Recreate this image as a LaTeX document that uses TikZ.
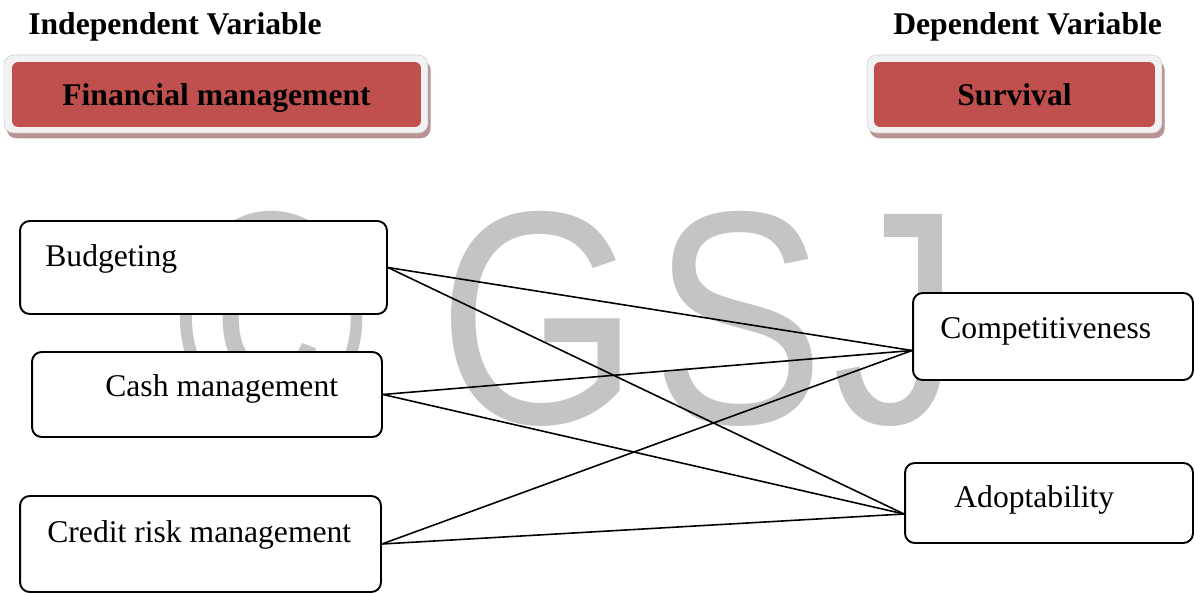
\documentclass[tikz,border=0pt]{standalone}
\usepackage{fontspec}
\setmainfont{Liberation Serif}
\newfontfamily\wmfont{Liberation Sans}
\usepackage{tikz}
\usetikzlibrary{calc, shadows}

\definecolor{headred}{RGB}{192,80,77}
\definecolor{headframe}{RGB}{242,242,242}
\definecolor{headshadow}{RGB}{184,148,148}
\definecolor{wmgray}{RGB}{196,196,196}

\tikzset{
  bodyfont/.style={font=\fontsize{18}{21}\selectfont},
  headfont/.style={font=\fontsize{18}{21}\selectfont\bfseries},
  frame/.style={fill=headframe, draw=headframe!85!black, line width=0.3pt,
    rounded corners=5.5pt, inner sep=0pt,
    drop shadow={shadow xshift=1.5pt, shadow yshift=-3pt, fill=headshadow, opacity=1}},
  redbox/.style={fill=headred, rounded corners=3.5pt, inner sep=0pt,
    text height=12.5pt, text depth=0pt, headfont},
  varbox/.style={draw, fill=white, line width=1.1pt, rounded corners=5.5pt, inner sep=0pt},
  vartext/.style={anchor=base west, inner sep=0pt, bodyfont},
  link/.style={line width=0.9pt}
}

\begin{document}
\begin{tikzpicture}[x=0.02cm, y=-0.02cm]
\useasboundingbox (0,0) rectangle (1194,594);

% watermark
\node[anchor=base west, inner sep=0pt, text=wmgray, xscale=0.85,
  font=\wmfont\fontsize{173}{173}\selectfont] (wm) at (176,424)
  {\textcopyright{} G\kern9ptS\kern5ptJ};

% headings
\node[anchor=base west, inner sep=0pt, headfont] (indep) at (28,35) {Independent Variable};
\node[anchor=base west, inner sep=0pt, headfont] (dep) at (893,35) {Dependent Variable};

\node[frame, minimum width=8.48cm, minimum height=1.56cm] (fmframe) at (216,94) {};
\node[redbox, minimum width=8.18cm, minimum height=1.3cm] (fm) at (216.5,94.5) {Financial management};

\node[frame, minimum width=5.9cm, minimum height=1.56cm] (svframe) at (1014.5,94) {};
\node[redbox, minimum width=5.62cm, minimum height=1.3cm] (sv) at (1014.5,94.5) {Survival};

% independent variables
\node[varbox, minimum width=7.34cm, minimum height=1.86cm] (bud) at (203.5,267.5) {};
\node[vartext] (budtxt) at (45,267) {Budgeting};

\node[varbox, minimum width=7.0cm, minimum height=1.7cm] (cash) at (207,394.5) {};
\node[vartext] (cashtxt) at (105,397) {Cash management};

\node[varbox, minimum width=7.22cm, minimum height=1.92cm] (cred) at (200.5,544) {};
\node[vartext] (credtxt) at (47,542) {Credit risk management};

% dependent variables
\node[varbox, minimum width=5.6cm, minimum height=1.74cm] (comp) at (1053,336.5) {};
\node[vartext] (comptxt) at (940,339) {Competitiveness};

\node[varbox, minimum width=5.76cm, minimum height=1.6cm] (adop) at (1049,503) {};
\node[vartext] (adoptxt) at (954,508) {Adoptability};

\coordinate (compin) at ($(comp.west)+(0,14)$);
\coordinate (adopin) at ($(adop.west)+(0,11)$);

\foreach \src in {bud, cash, cred}
{
    \draw[link] (\src.east) -- (compin);
    \draw[link] (\src.east) -- (adopin);
}
\end{tikzpicture}
\end{document}
